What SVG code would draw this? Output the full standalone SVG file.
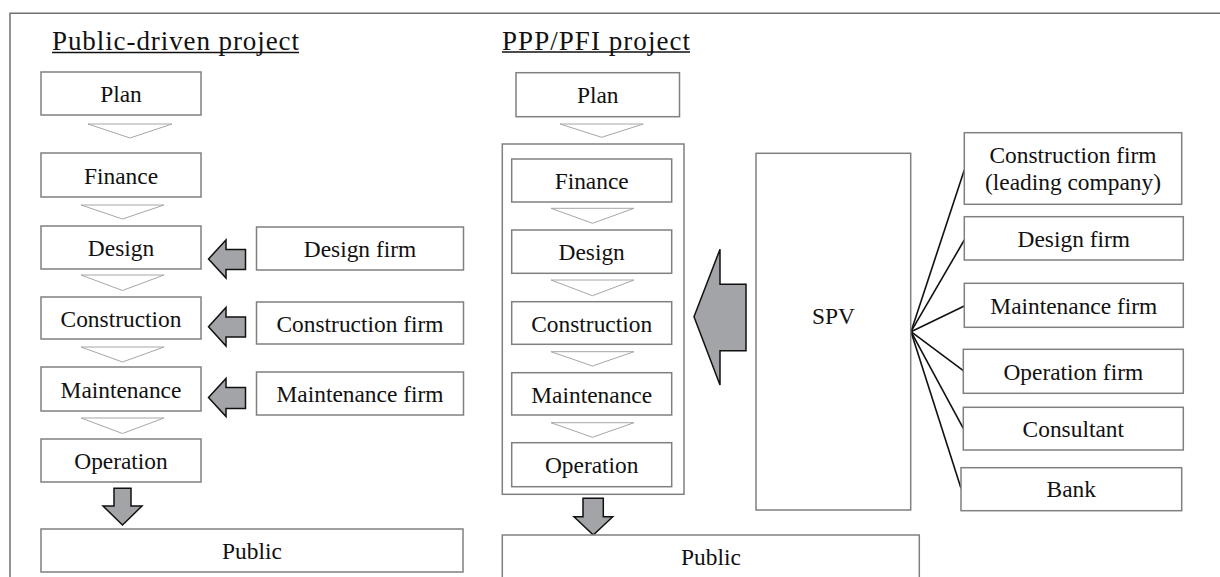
<svg xmlns="http://www.w3.org/2000/svg" width="1220" height="577" viewBox="0 0 1220 577">
<style>
.box{fill:#fff;stroke:#808080;stroke-width:1.5}
.frameBox{fill:none;stroke:#808080;stroke-width:1.5}
.t{font-family:"Liberation Serif","Times New Roman",serif;font-size:23.4px;fill:#111;text-anchor:middle}
.title{font-family:"Liberation Serif","Times New Roman",serif;font-size:27px;fill:#111}
.ul{stroke:#111;stroke-width:1.3}
.chev{fill:#fff;stroke:#a6a6a6;stroke-width:1}
.arr{fill:#a2a4a7;stroke:#111;stroke-width:1.5;stroke-linejoin:miter}
.fan{stroke:#111;stroke-width:1.6;fill:none}
.frame{stroke:#707070;stroke-width:1.5;fill:none}
</style>
<rect width="1220" height="577" fill="#fff"/>
<path class="frame" d="M10,577 L10,13.3 L1220,13.3"/>

<g id="titles">
  <text class="title" x="52" y="50" textLength="247" lengthAdjust="spacing">Public-driven project</text>
  <line class="ul" x1="52" y1="52.5" x2="299" y2="52.5"/>
  <text class="title" x="502" y="49.5" textLength="188" lengthAdjust="spacing">PPP/PFI project</text>
  <line class="ul" x1="502" y1="52" x2="690" y2="52"/>
</g>

<g id="ppp-container"><rect class="frameBox" x="502.3" y="144" width="181.7" height="350.3"/></g>

<g id="connectors">
  <polygon class="chev" points="88,124 172,124 130,138"/>
  <polygon class="chev" points="81,205 164,205 122.5,219"/>
  <polygon class="chev" points="81,275 164,275 122.5,290.5"/>
  <polygon class="chev" points="81,347 164,347 122.5,362"/>
  <polygon class="chev" points="81,418 164,418 122.5,433.5"/>
  <path class="arr" d="M208.5,259 L226,240 L226,249.5 L245.5,249.5 L245.5,269.5 L226,269.5 L226,278 Z"/>
  <path class="arr" d="M208.5,326.7 L226,307.5 L226,317 L245.5,317 L245.5,337 L226,337 L226,346 Z"/>
  <path class="arr" d="M208.5,397.5 L226,378.5 L226,387.5 L245.5,387.5 L245.5,408.5 L226,408.5 L226,416.5 Z"/>
  <path class="arr" d="M114,488.3 L131,488.3 L131,506 L142,506 L122.5,525 L103,506 L114,506 Z"/>

  <polygon class="chev" points="560,124 643.3,124 601.7,137.3"/>
  <polygon class="chev" points="551,208.3 634,208.3 592.5,223.3"/>
  <polygon class="chev" points="551,280 634,280 592.5,295.7"/>
  <polygon class="chev" points="551,351.7 634,351.7 592.5,366"/>
  <polygon class="chev" points="551,422.7 634,422.7 592.5,437.3"/>
  <path class="arr" d="M583,498.3 L603.3,498.3 L603.3,516.7 L612.7,516.7 L593.3,535 L574,516.7 L583,516.7 Z"/>
  <path class="arr" d="M694,316.7 L720,249.3 L720,284.3 L746,284.3 L746,350.7 L720,350.7 L720,385 Z"/>

  <line class="fan" x1="911" y1="331.7" x2="964.3" y2="170"/>
  <line class="fan" x1="911" y1="331.7" x2="964.3" y2="240"/>
  <line class="fan" x1="911" y1="331.7" x2="964.3" y2="306"/>
  <line class="fan" x1="911" y1="331.7" x2="963.3" y2="370.7"/>
  <line class="fan" x1="911" y1="331.7" x2="963.3" y2="428.3"/>
  <line class="fan" x1="911" y1="331.7" x2="961" y2="488.3"/>
</g>

<g id="pub-plan"><rect class="box" x="41" y="72" width="160" height="43"/><text class="t" x="121" y="102">Plan</text></g>
<g id="pub-finance"><rect class="box" x="41" y="153" width="160" height="44"/><text class="t" x="121" y="183.5">Finance</text></g>
<g id="pub-design"><rect class="box" x="41" y="226" width="160" height="43"/><text class="t" x="121" y="255.5">Design</text></g>
<g id="pub-construction"><rect class="box" x="41" y="297" width="160" height="42"/><text class="t" x="121" y="326.5">Construction</text></g>
<g id="pub-maintenance"><rect class="box" x="41" y="367" width="160" height="44"/><text class="t" x="121" y="397.5">Maintenance</text></g>
<g id="pub-operation"><rect class="box" x="41" y="439" width="160" height="43"/><text class="t" x="121" y="469">Operation</text></g>
<g id="pub-public"><rect class="box" x="41" y="529" width="422" height="43"/><text class="t" x="252" y="558.5">Public</text></g>

<g id="pub-design-firm"><rect class="box" x="256.5" y="227" width="207" height="43"/><text class="t" x="360" y="257">Design firm</text></g>
<g id="pub-construction-firm"><rect class="box" x="256.5" y="302" width="207" height="42"/><text class="t" x="360" y="331.5">Construction firm</text></g>
<g id="pub-maintenance-firm"><rect class="box" x="256.5" y="372" width="207" height="43"/><text class="t" x="360" y="402">Maintenance firm</text></g>

<g id="ppp-plan"><rect class="box" x="516" y="72.7" width="163.5" height="44"/><text class="t" x="597.7" y="103">Plan</text></g>
<g id="ppp-finance"><rect class="box" x="511.7" y="159" width="160" height="43"/><text class="t" x="591.7" y="188.5">Finance</text></g>
<g id="ppp-design"><rect class="box" x="511.7" y="230" width="160" height="43.3"/><text class="t" x="591.7" y="260">Design</text></g>
<g id="ppp-construction"><rect class="box" x="511.7" y="301.7" width="160" height="42.6"/><text class="t" x="591.7" y="331.5">Construction</text></g>
<g id="ppp-maintenance"><rect class="box" x="511.7" y="372.7" width="160" height="42.3"/><text class="t" x="591.7" y="402.5">Maintenance</text></g>
<g id="ppp-operation"><rect class="box" x="511.7" y="442.7" width="160" height="44"/><text class="t" x="591.7" y="473">Operation</text></g>
<g id="ppp-public"><rect class="box" x="502.3" y="535" width="417" height="60"/><text class="t" x="711" y="565">Public</text></g>

<g id="spv"><rect class="box" x="756" y="153.3" width="154.7" height="356.7"/><text class="t" x="833.5" y="324">SPV</text></g>

<g id="cf-leading"><rect class="box" x="964.3" y="132.7" width="217.4" height="71.6"/><text class="t" x="1073" y="163">Construction firm</text><text class="t" x="1073" y="190">(leading company)</text></g>
<g id="design-firm"><rect class="box" x="964.3" y="216.7" width="219" height="43.3"/><text class="t" x="1073.8" y="247">Design firm</text></g>
<g id="maintenance-firm"><rect class="box" x="964.3" y="283.3" width="219" height="44"/><text class="t" x="1073.8" y="313.5">Maintenance firm</text></g>
<g id="operation-firm"><rect class="box" x="963.3" y="349.3" width="220" height="44"/><text class="t" x="1073.3" y="380">Operation firm</text></g>
<g id="consultant"><rect class="box" x="963.3" y="407.3" width="220" height="42.7"/><text class="t" x="1073.3" y="437">Consultant</text></g>
<g id="bank"><rect class="box" x="961" y="467.7" width="220.7" height="43"/><text class="t" x="1071.3" y="497">Bank</text></g>
</svg>
